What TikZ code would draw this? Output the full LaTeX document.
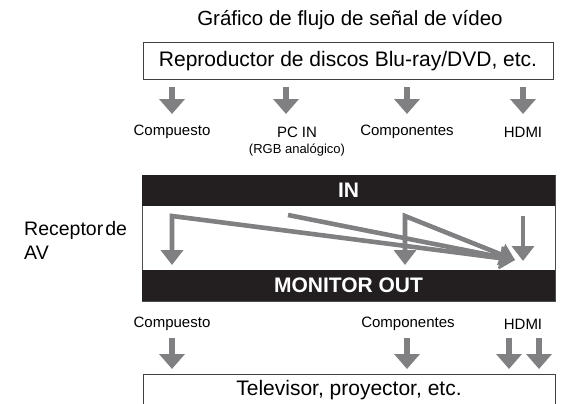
\documentclass[tikz,border=0pt]{standalone}
\usepackage{fontspec}
\setmainfont{Liberation Sans}
\usetikzlibrary{arrows.meta,positioning}

\definecolor{flowgray}{RGB}{128,128,131}
\definecolor{barblack}{RGB}{35,31,32}

\tikzset{
  sig/.style={draw=flowgray, line width=6.5pt, -{Triangle[width=25pt,length=15pt]}},
  isig/.style={draw=flowgray, line width=4.6pt, line join=miter},
  ihead/.style={-{Triangle[width=22pt,length=15pt]}},
  iboth/.style={{Triangle[width=22pt,length=15pt]}-{Triangle[width=22pt,length=15pt]}},
  srcbox/.style={draw=black!75, line width=1pt, minimum width=410pt, minimum height=36pt,
    font=\fontsize{21}{24}\selectfont},
  bar/.style={fill=barblack, text=white, minimum width=413pt, minimum height=31pt,
    inner sep=0pt, font=\fontsize{21}{24}\selectfont\bfseries},
  lbl/.style={font=\fontsize{15}{17}\selectfont, inner sep=0pt}
}

\begin{document}
\begin{tikzpicture}[x=1pt,y=-1pt]
  \useasboundingbox (0,0) rectangle (562,404);
  \clip (0,0) rectangle (562,404);

  % title and source
  \node[font=\fontsize{20.5}{24}\selectfont] (title) at (350,20) {Gráfico de flujo de señal de vídeo};
  \node[srcbox] (src) at (348,61) {Reproductor de discos Blu-ray/DVD, etc.};

  % inputs
  \node[lbl] (incmp) at (172,132) {Compuesto};
  \node[lbl] (inpc) at (297,132) {PC IN};
  \node[lbl, font=\fontsize{13}{15}\selectfont, below=6pt of inpc] (inrgb) {(RGB analógico)};
  \node[lbl] (incom) at (407,132) {Componentes};
  \node[lbl] (inhdmi) at (523,132) {HDMI};
  \foreach \n/\x in {incmp/172,inpc/286,incom/407,inhdmi/523}{
    \coordinate (\n-a) at (\x,87);
    \coordinate (\n-b) at (\x,114);
    \draw[sig] (\n-a) -- (\n-b);
  }

  % receiver
  \node[anchor=west, align=left, font=\fontsize{19.5}{24}\selectfont, inner sep=0pt] (rcv)
    at (24,240) {Receptor\hspace{2pt}de\\AV};
  \draw[black!70, line width=1pt] (142,175) rectangle (555,301);
  \node[bar] (inbar) at (348.5,190.5) {IN};
  \node[bar] (outbar) at (348.5,285.5) {MONITOR OUT};

  \coordinate (cmpTop) at (172,216);
  \coordinate (cmpEnd) at (172,265);
  \coordinate (pcTop) at (288,215);
  \coordinate (comTop) at (405,216);
  \coordinate (comEnd) at (405,265);
  \coordinate (hdTop) at (523,216);
  \coordinate (hdEnd) at (523,261);
  \coordinate (mix) at (515,260);
  \draw[isig, iboth] (cmpEnd) -- (cmpTop) -- (mix);
  \draw[isig, ihead] (pcTop) -- (mix);
  \draw[isig, iboth] (comEnd) -- (comTop) -- (mix);
  \draw[isig, ihead] (hdTop) -- (hdEnd);

  % outputs
  \node[lbl] (outcmp) at (172,324) {Compuesto};
  \node[lbl] (outcom) at (408,324) {Componentes};
  \node[lbl] (outhdmi) at (523,324) {HDMI};
  \foreach \n/\x in {o1/172,o2/407,o3/509,o4/539}{
    \coordinate (\n-a) at (\x,338);
    \coordinate (\n-b) at (\x,369);
    \draw[sig] (\n-a) -- (\n-b);
  }

  % display
  \draw[black!75, line width=1pt] (143,374) rectangle (555,430);
  \node[font=\fontsize{21}{24}\selectfont] (tv) at (349,390) {Televisor, proyector, etc.};
\end{tikzpicture}
\end{document}
